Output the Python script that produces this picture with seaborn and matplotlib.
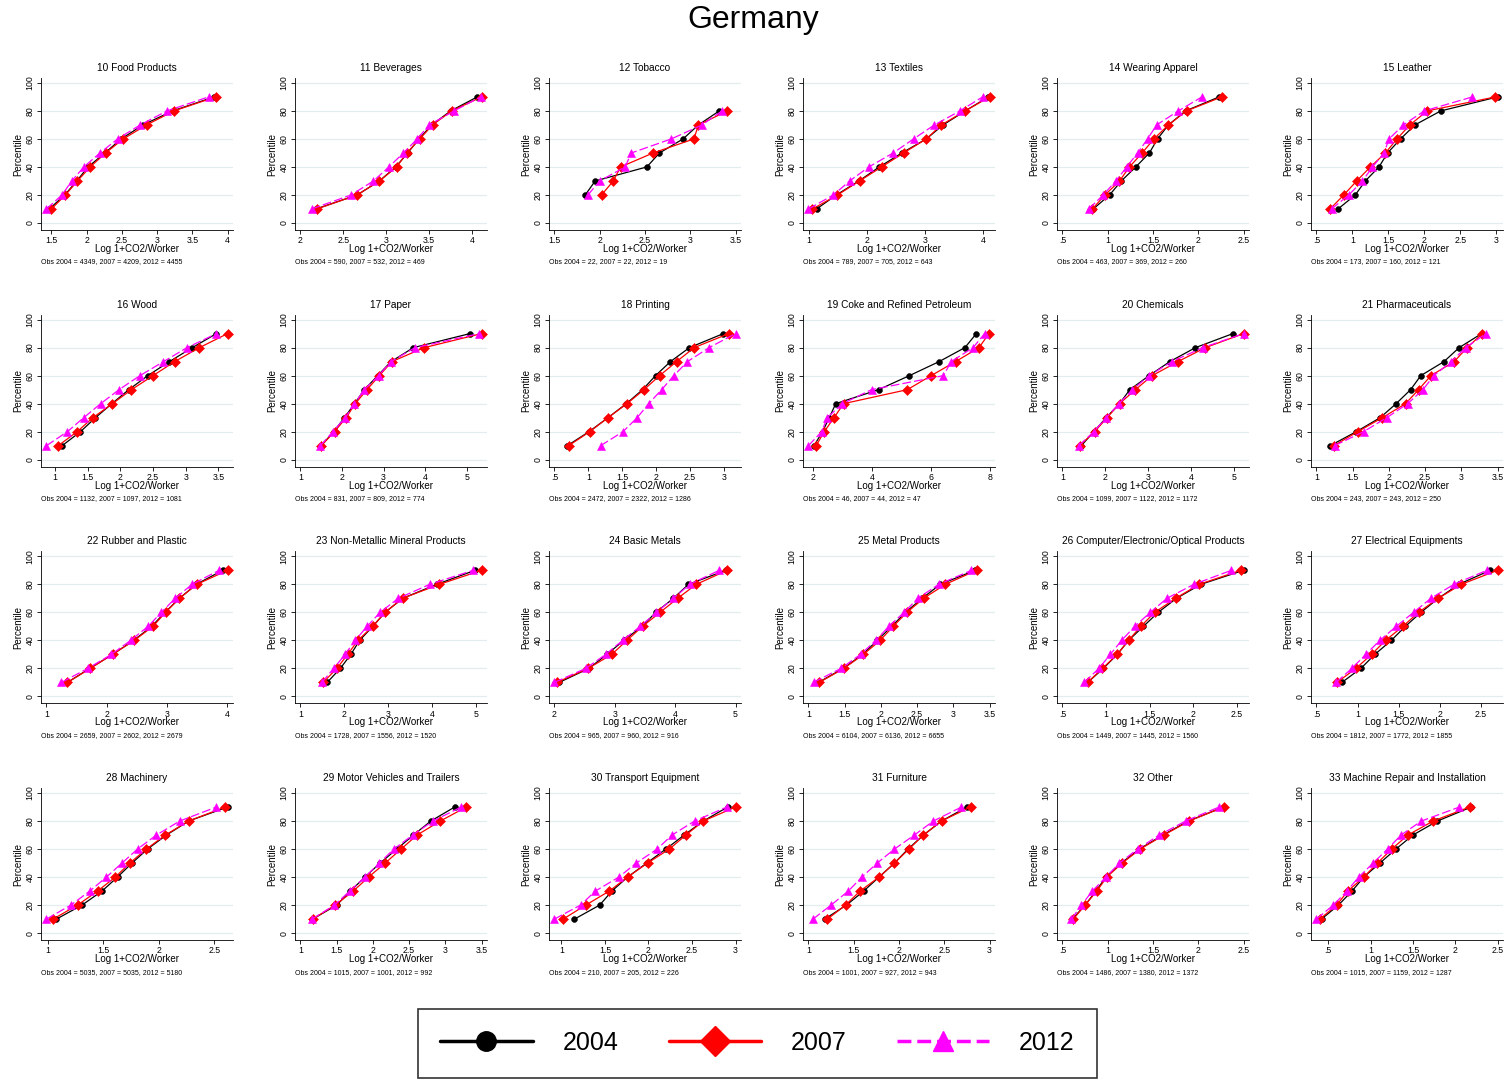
import numpy as np
import pandas as pd
import matplotlib
matplotlib.use("Agg")
import matplotlib.pyplot as plt
from matplotlib.lines import Line2D
import seaborn as sns

sns.set_style("ticks")
plt.rcParams['font.family'] = ['Liberation Sans', 'DejaVu Sans']
plt.rcParams['text.color'] = 'black'
plt.rcParams['axes.labelcolor'] = 'black'
plt.rcParams['xtick.color'] = 'black'
plt.rcParams['ytick.color'] = 'black'

# ---------------- data ----------------
PCT = [10, 20, 30, 40, 50, 60, 70, 80, 90]
PCT_SHORT = [20, 30, 40, 50, 60, 70, 80]
YEARS = ["2004", "2007", "2012"]

TITLES = ["10 Food Products", "11 Beverages", "12 Tobacco", "13 Textiles",
          "14 Wearing Apparel", "15 Leather", "16 Wood", "17 Paper",
          "18 Printing", "19 Coke and Refined Petroleum", "20 Chemicals",
          "21 Pharmaceuticals", "22 Rubber and Plastic",
          "23 Non-Metallic Mineral Products", "24 Basic Metals",
          "25 Metal Products", "26 Computer/Electronic/Optical Products",
          "27 Electrical Equipments", "28 Machinery",
          "29 Motor Vehicles and Trailers", "30 Transport Equipment",
          "31 Furniture", "32 Other", "33 Machine Repair and Installation"]

OBS_2004 = [4349, 590, 22, 789, 463, 173, 1132, 831, 2472, 46, 1099, 243,
            2659, 1728, 965, 6104, 1449, 1812, 5035, 1015, 210, 1001, 1486, 1015]
OBS_2007 = [4209, 532, 22, 705, 369, 160, 1097, 809, 2322, 44, 1122, 243,
            2602, 1556, 960, 6136, 1445, 1772, 5035, 1001, 205, 927, 1380, 1159]
OBS_2012 = [4455, 469, 19, 643, 260, 121, 1081, 774, 1286, 47, 1172, 250,
            2679, 1520, 916, 6655, 1560, 1855, 5180, 992, 226, 943, 1372, 1287]

XTICKS = [
    ["1.5", "2", "2.5", "3", "3.5", "4"],
    ["2", "2.5", "3", "3.5", "4"],
    ["1.5", "2", "2.5", "3", "3.5"],
    ["1", "2", "3", "4"],
    [".5", "1", "1.5", "2", "2.5"],
    [".5", "1", "1.5", "2", "2.5", "3"],
    ["1", "1.5", "2", "2.5", "3", "3.5"],
    ["1", "2", "3", "4", "5"],
    [".5", "1", "1.5", "2", "2.5", "3"],
    ["2", "4", "6", "8"],
    ["1", "2", "3", "4", "5"],
    ["1", "1.5", "2", "2.5", "3", "3.5"],
    ["1", "2", "3", "4"],
    ["1", "2", "3", "4", "5"],
    ["2", "3", "4", "5"],
    ["1", "1.5", "2", "2.5", "3", "3.5"],
    [".5", "1", "1.5", "2", "2.5"],
    [".5", "1", "1.5", "2", "2.5"],
    ["1", "1.5", "2", "2.5"],
    ["1", "1.5", "2", "2.5", "3", "3.5"],
    ["1", "1.5", "2", "2.5", "3"],
    ["1", "1.5", "2", "2.5", "3"],
    [".5", "1", "1.5", "2", "2.5"],
    [".5", "1", "1.5", "2", "2.5"],
]

V2004 = [
    [1.47, 1.69, 1.86, 2.02, 2.26, 2.49, 2.80, 3.22, 3.81],
    [2.18, 2.66, 2.92, 3.11, 3.25, 3.38, 3.53, 3.75, 4.06],
    [1.84, 1.95, 2.52, 2.66, 2.92, 3.09, 3.32],
    [1.13, 1.47, 1.86, 2.21, 2.60, 3.02, 3.31, 3.69, 4.09],
    [0.84, 1.02, 1.15, 1.31, 1.46, 1.55, 1.67, 1.86, 2.23],
    [0.80, 1.04, 1.18, 1.37, 1.49, 1.67, 1.87, 2.23, 3.02],
    [1.11, 1.39, 1.62, 1.87, 2.13, 2.42, 2.75, 3.10, 3.47],
    [1.50, 1.80, 2.06, 2.30, 2.54, 2.86, 3.18, 3.72, 5.08],
    [0.69, 1.01, 1.29, 1.56, 1.80, 1.99, 2.21, 2.49, 2.99],
    [2.02, 2.31, 2.54, 2.76, 4.22, 5.27, 6.28, 7.16, 7.55],
    [1.44, 1.73, 2.02, 2.33, 2.57, 3.02, 3.50, 4.10, 4.97],
    [1.19, 1.55, 1.88, 2.10, 2.30, 2.44, 2.76, 2.97, 3.28],
    [1.35, 1.72, 2.10, 2.45, 2.75, 2.97, 3.21, 3.49, 3.93],
    [1.61, 1.91, 2.15, 2.35, 2.65, 2.93, 3.33, 4.11, 4.98],
    [2.08, 2.57, 2.87, 3.15, 3.45, 3.68, 3.97, 4.22, 4.84],
    [1.14, 1.48, 1.75, 1.95, 2.15, 2.34, 2.57, 2.82, 3.30],
    [0.79, 0.97, 1.13, 1.26, 1.43, 1.60, 1.81, 2.09, 2.58],
    [0.81, 1.04, 1.21, 1.41, 1.58, 1.77, 1.98, 2.23, 2.61],
    [1.08, 1.31, 1.49, 1.63, 1.76, 1.90, 2.07, 2.27, 2.62],
    [1.17, 1.50, 1.69, 1.89, 2.10, 2.33, 2.56, 2.80, 3.13],
    [1.15, 1.44, 1.58, 1.76, 1.98, 2.20, 2.41, 2.63, 2.91],
    [1.18, 1.42, 1.61, 1.78, 1.95, 2.10, 2.27, 2.47, 2.75],
    [0.61, 0.75, 0.87, 0.98, 1.15, 1.35, 1.61, 1.89, 2.28],
    [0.42, 0.62, 0.78, 0.92, 1.11, 1.30, 1.50, 1.79, 2.19],
]

V2007 = [
    [1.50, 1.70, 1.87, 2.05, 2.27, 2.52, 2.85, 3.24, 3.83],
    [2.19, 2.66, 2.92, 3.12, 3.24, 3.39, 3.54, 3.76, 4.11],
    [2.02, 2.15, 2.23, 2.59, 3.04, 3.09, 3.41],
    [1.06, 1.49, 1.87, 2.25, 2.63, 3.02, 3.28, 3.69, 4.11],
    [0.83, 0.97, 1.13, 1.24, 1.38, 1.51, 1.67, 1.87, 2.26],
    [0.69, 0.88, 1.06, 1.25, 1.46, 1.62, 1.80, 2.04, 2.99],
    [1.05, 1.34, 1.58, 1.88, 2.17, 2.50, 2.83, 3.21, 3.64],
    [1.50, 1.82, 2.10, 2.32, 2.60, 2.90, 3.20, 3.98, 5.36],
    [0.71, 1.02, 1.29, 1.57, 1.82, 2.05, 2.30, 2.56, 3.07],
    [2.09, 2.37, 2.70, 3.03, 5.20, 6.01, 6.84, 7.64, 7.98],
    [1.40, 1.75, 2.04, 2.33, 2.70, 3.09, 3.69, 4.33, 5.22],
    [1.24, 1.57, 1.91, 2.23, 2.41, 2.58, 2.90, 3.08, 3.29],
    [1.35, 1.73, 2.10, 2.46, 2.77, 2.98, 3.21, 3.50, 4.01],
    [1.52, 1.83, 2.08, 2.31, 2.65, 2.93, 3.33, 4.17, 5.13],
    [2.04, 2.56, 2.95, 3.20, 3.46, 3.75, 4.04, 4.35, 4.86],
    [1.15, 1.49, 1.76, 1.99, 2.17, 2.36, 2.59, 2.89, 3.32],
    [0.79, 0.96, 1.13, 1.26, 1.40, 1.56, 1.80, 2.07, 2.55],
    [0.75, 0.98, 1.17, 1.34, 1.55, 1.74, 1.98, 2.26, 2.70],
    [1.05, 1.27, 1.45, 1.61, 1.74, 1.89, 2.06, 2.27, 2.60],
    [1.17, 1.48, 1.73, 1.94, 2.17, 2.39, 2.61, 2.93, 3.29],
    [1.02, 1.28, 1.55, 1.76, 1.99, 2.24, 2.43, 2.63, 3.00],
    [1.21, 1.41, 1.57, 1.78, 1.95, 2.11, 2.27, 2.47, 2.79],
    [0.62, 0.75, 0.88, 0.99, 1.16, 1.36, 1.62, 1.90, 2.28],
    [0.40, 0.60, 0.73, 0.92, 1.08, 1.25, 1.44, 1.74, 2.17],
]

V2012 = [
    [1.43, 1.65, 1.79, 1.96, 2.19, 2.44, 2.76, 3.14, 3.73],
    [2.13, 2.59, 2.85, 3.03, 3.20, 3.36, 3.50, 3.79, 4.10],
    [1.87, 2.00, 2.28, 2.35, 2.79, 3.13, 3.35],
    [0.99, 1.42, 1.70, 2.03, 2.45, 2.80, 3.16, 3.60, 3.99],
    [0.79, 0.95, 1.09, 1.21, 1.33, 1.44, 1.54, 1.78, 2.04],
    [0.71, 0.95, 1.14, 1.28, 1.44, 1.51, 1.71, 2.00, 2.67],
    [0.87, 1.19, 1.44, 1.70, 1.98, 2.30, 2.66, 3.02, 3.47],
    [1.48, 1.78, 2.08, 2.30, 2.54, 2.88, 3.18, 3.76, 5.30],
    [1.18, 1.51, 1.72, 1.89, 2.08, 2.26, 2.46, 2.78, 3.17],
    [1.83, 2.28, 2.47, 2.99, 3.98, 6.43, 6.69, 7.44, 7.83],
    [1.38, 1.73, 2.02, 2.32, 2.63, 3.02, 3.55, 4.27, 5.22],
    [1.25, 1.65, 1.97, 2.26, 2.47, 2.62, 2.86, 3.06, 3.34],
    [1.25, 1.69, 2.08, 2.40, 2.69, 2.91, 3.14, 3.42, 3.87],
    [1.49, 1.76, 2.02, 2.25, 2.52, 2.82, 3.23, 3.95, 4.94],
    [2.00, 2.52, 2.85, 3.13, 3.42, 3.69, 3.97, 4.24, 4.73],
    [1.07, 1.45, 1.72, 1.93, 2.11, 2.32, 2.51, 2.80, 3.25],
    [0.75, 0.92, 1.05, 1.18, 1.33, 1.51, 1.70, 2.01, 2.44],
    [0.74, 0.93, 1.10, 1.27, 1.47, 1.68, 1.89, 2.17, 2.57],
    [0.99, 1.21, 1.38, 1.53, 1.67, 1.81, 1.98, 2.19, 2.52],
    [1.16, 1.47, 1.68, 1.89, 2.09, 2.29, 2.55, 2.83, 3.22],
    [0.92, 1.22, 1.39, 1.66, 1.86, 2.10, 2.27, 2.53, 2.90],
    [1.05, 1.25, 1.44, 1.59, 1.76, 1.95, 2.17, 2.38, 2.69],
    [0.60, 0.71, 0.83, 0.98, 1.13, 1.33, 1.57, 1.86, 2.23],
    [0.36, 0.56, 0.72, 0.86, 1.03, 1.20, 1.36, 1.60, 2.05],
]

# ---------------- style ----------------
W, H = 1506, 1080
COLORS = {"2004": "#000000", "2007": "#FF0000", "2012": "#FF00FF"}
MARKERS = {"2004": "o", "2007": "D", "2012": "^"}
MSIZE = {"2004": 4.2, "2007": 5.2, "2012": 5.5}
LSTYLE = {"2004": "-", "2007": "-", "2012": (0, (7, 2.5))}
GRID = "#E3ECEE"

fig = plt.figure(figsize=(W / 100, H / 100), dpi=100)
fig.patch.set_facecolor("white")

AX_W, AX_H = 192, 152
COL_X = [41 + 254 * c for c in range(6)]
ROW_STEP = 236.7

for i, title in enumerate(TITLES):
    r, c = divmod(i, 6)
    top_px = 78 + ROW_STEP * r
    ax = fig.add_axes([COL_X[c] / W, 1 - (top_px + AX_H) / H, AX_W / W, AX_H / H])
    series = {"2004": V2004[i], "2007": V2007[i], "2012": V2012[i]}
    pct = PCT if len(V2004[i]) == len(PCT) else PCT_SHORT
    for yr in YEARS:
        df = pd.DataFrame({"x": series[yr], "pct": pct})
        sns.lineplot(data=df, x="x", y="pct", ax=ax, color=COLORS[yr],
                     marker=MARKERS[yr], markersize=MSIZE[yr],
                     markeredgecolor=COLORS[yr], markeredgewidth=0.4,
                     linewidth=0.9, linestyle=LSTYLE[yr], sort=False,
                     estimator=None, legend=False, zorder=3)
    tick_vals = [float(t) for t in XTICKS[i]]
    allx = V2004[i] + V2007[i] + V2012[i]
    lo = min(min(allx), tick_vals[0])
    hi = max(max(allx), tick_vals[-1])
    pad = 0.03 * (hi - lo)
    ax.set_xlim(lo - pad, hi + pad)
    ax.set_ylim(-5, 103.5)
    ax.set_xticks(tick_vals)
    ax.set_xticklabels(XTICKS[i])
    ax.set_yticks([0, 20, 40, 60, 80, 100])
    ax.set_yticklabels(["0", "20", "40", "60", "80", "100"], rotation=90, va="center")
    ax.tick_params(axis="both", length=3, width=0.6, pad=1.5, labelsize=6.3,
                   colors="black", labelcolor="black")
    ax.grid(axis="y", color=GRID, linewidth=0.9)
    ax.set_axisbelow(True)
    for s in ["top", "right"]:
        ax.spines[s].set_visible(False)
    for s in ["left", "bottom"]:
        ax.spines[s].set_linewidth(0.6)
        ax.spines[s].set_color("black")
    ax.set_xlabel("")
    ax.set_ylabel("")
    ax.text(0.5, 1 + 10 / AX_H, title, transform=ax.transAxes, ha="center",
            va="center", fontsize=7.3, color="black")
    ax.text(0.5, -19 / AX_H, "Log 1+CO2/Worker", transform=ax.transAxes,
            ha="center", va="center", fontsize=7.0, color="black")
    ax.text(-23 / AX_W, 0.5, "Percentile", transform=ax.transAxes,
            ha="center", va="center", rotation=90, fontsize=7.0, color="black")
    note = f"Obs 2004 = {OBS_2004[i]}, 2007 = {OBS_2007[i]}, 2012 = {OBS_2012[i]}"
    ax.text(0.0, -32 / AX_H, note, transform=ax.transAxes, ha="left",
            va="center", fontsize=5.0, color="black")

fig.text(0.5, 1 - 20 / H, "Germany", ha="center", va="center", fontsize=23,
         color="black")

handles = [
    Line2D([], [], color=COLORS["2004"], marker="o", markersize=14, linewidth=2.5),
    Line2D([], [], color=COLORS["2007"], marker="D", markersize=15, linewidth=2.5),
    Line2D([], [], color=COLORS["2012"], marker="^", markersize=15, linewidth=2.5,
           linestyle=(0, (4, 1.7))),
]
leg = fig.legend(handles, YEARS, loc="center",
                 bbox_to_anchor=(757.5 / W, 1 - 1043 / H), ncol=3, fontsize=18,
                 frameon=True, fancybox=False, edgecolor="black",
                 handlelength=3.7, handletextpad=1.2, columnspacing=2.0,
                 borderpad=0.9)
leg.get_frame().set_linewidth(1.2)
for t in leg.get_texts():
    t.set_color("black")

fig.savefig("out.png", dpi=100, facecolor="white")
